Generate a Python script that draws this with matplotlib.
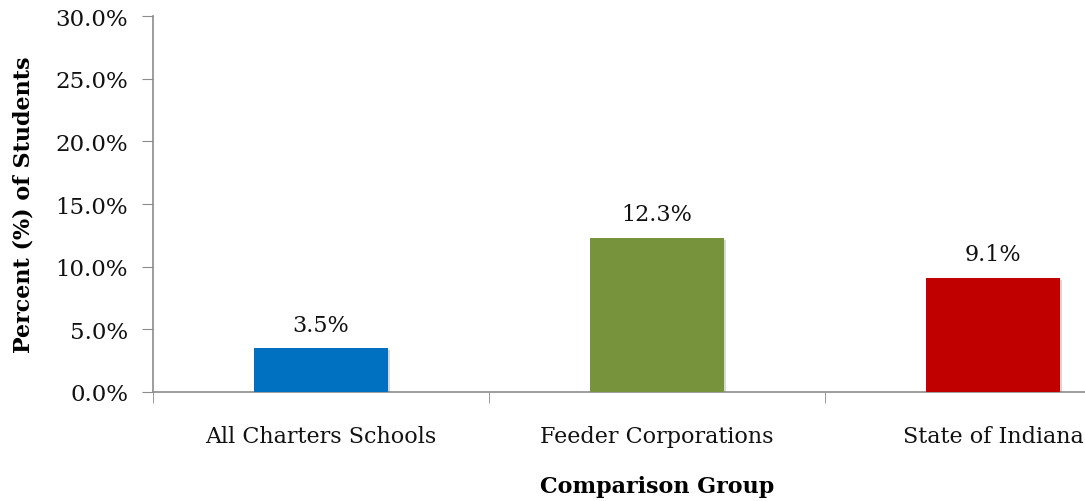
import numpy as np
import matplotlib
matplotlib.use('Agg')
import matplotlib.pyplot as plt
import matplotlib.patheffects as pe
from matplotlib.ticker import FuncFormatter, FixedLocator

groups = ['All Charters Schools', 'Feeder Corporations', 'State of Indiana']
percents = [3.5, 12.3, 9.1]
colors = ['#0070C0', '#77933C', '#C00000']

plt.rcParams['font.family'] = ['DejaVu Serif']
axis_gray = '#8c8c8c'

fig = plt.figure(figsize=(10.85, 5.02), dpi=100)
# axes runs past the right edge of the figure, so the last group is clipped
ax = fig.add_axes([153 / 1085, (502 - 393) / 502, 1008 / 1085, 376 / 502])

x = np.arange(len(groups))
bars = ax.bar(x, percents, width=0.4, color=colors, zorder=3)
for b in bars:
    b.set_path_effects([pe.SimplePatchShadow(offset=(1.5, -1.5), shadow_rgbFace='gray', alpha=0.3),
                        pe.Normal()])

for xi, v in zip(x, percents):
    ax.text(xi, v + 1.0, '{:.1f}%'.format(v), ha='center', va='bottom', fontsize=16, color='#111111')

ax.set_xlim(-0.5, 2.5)
ax.set_ylim(0, 30)
ax.set_yticks(np.arange(0, 31, 5))
ax.yaxis.set_major_formatter(FuncFormatter(lambda v, p: '{:.1f}%'.format(v)))

ax.set_xticks(x)
ax.set_xticklabels(groups)
ax.xaxis.set_minor_locator(FixedLocator([-0.5, 0.5, 1.5, 2.5]))
ax.tick_params(axis='x', which='major', length=0, pad=24, labelsize=16, labelcolor='#111111')
ax.tick_params(axis='x', which='minor', length=8, color=axis_gray, direction='out')
ax.tick_params(axis='y', length=8, color=axis_gray, labelsize=16.5, pad=10, labelcolor='#111111')

for s in ['top', 'right']:
    ax.spines[s].set_visible(False)
for s in ['left', 'bottom']:
    ax.spines[s].set_color(axis_gray)
    ax.spines[s].set_linewidth(1.2)

ax.set_xlabel('Comparison Group', fontsize=16, fontweight='bold', labelpad=20)
ax.set_ylabel('Percent (%) of Students', fontsize=16, fontweight='bold', labelpad=15)

fig.savefig('out.png', dpi=100)
